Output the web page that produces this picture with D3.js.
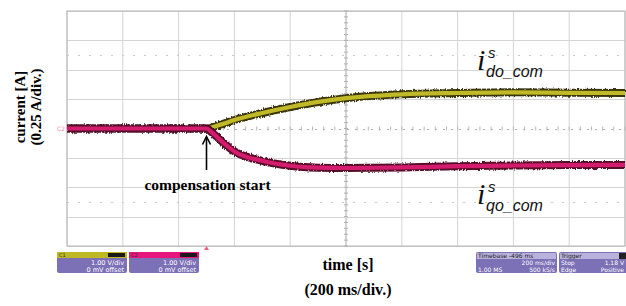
<!DOCTYPE html>
<html>
<head>
<meta charset="utf-8">
<script src="https://cdn.jsdelivr.net/npm/d3@7"></script>
<style>
  body { margin: 0; background: #fff; }
  svg { display: block; }
</style>
</head>
<body>
<div id="chart"></div>
<script>
// time in ms (200 ms/div), current in A (0.25 A/div)
var timeMs = [0, 500, 520, 560, 600, 700, 800, 900, 1000, 1100, 1200, 1400, 1600, 1800, 2000];
var idoCom = [0, 0, 0.01, 0.04, 0.072, 0.132, 0.183, 0.226, 0.258, 0.278, 0.291, 0.302, 0.308, 0.304, 0.302];
var iqoCom = [0, 0, -0.035, -0.12, -0.195, -0.275, -0.317, -0.333, -0.336, -0.334, -0.331, -0.321, -0.315, -0.311, -0.31];
var compStart = 500;

var channelNames = ["C1", "C2"];
var channelScale = ["1.00 V/div", "1.00 V/div"];
var channelOffset = ["0 mV offset", "0 mV offset"];
var timebaseLines = ["Timebase -496 ms", "200 ms/div", "1.00 MS", "500 kS/s"];
var triggerLines = ["Trigger", "Stop", "1.18 V", "Edge", "Positive"];

(function(){
	var width = 626, height = 306;
	var svg = d3.select("#chart").append("svg")
		.attr("width", width)
		.attr("height", height);

	// rough edges for the scope traces
	var defs = svg.append("defs");
	var filt = defs.append("filter").attr("id", "fuzz")
		.attr("x", "-5%").attr("y", "-50%").attr("width", "110%").attr("height", "200%");
	filt.append("feTurbulence").attr("type", "fractalNoise")
		.attr("baseFrequency", "0.9 0.25").attr("numOctaves", 2).attr("seed", 3).attr("result", "n");
	filt.append("feDisplacementMap").attr("in", "SourceGraphic").attr("in2", "n")
		.attr("scale", 3.5).attr("xChannelSelector", "R").attr("yChannelSelector", "G");

	var x = d3.scaleLinear().domain([0, 2000]).range([67, 625]);
	var y = d3.scaleLinear().domain([-1, 1]).range([246, 11]);

	var grid = svg.append("g");
	// vertical divisions
	grid.selectAll(".vl")
		.data(d3.range(0, 2001, 200))
		.enter().append("line")
		.attr("x1", function(d){ return x(d); })
		.attr("x2", function(d){ return x(d); })
		.attr("y1", y(1)).attr("y2", y(-1))
		.attr("stroke", function(d){ return d == 1000 ? "#a8a8a8" : "#d4d4d4"; })
		.attr("stroke-width", 1);
	// horizontal divisions (center one is dotted)
	grid.selectAll(".hl")
		.data(d3.range(-1, 1.001, 0.25))
		.enter().append("line")
		.attr("x1", x(0)).attr("x2", x(2000))
		.attr("y1", function(d){ return Math.round(y(d)) + 0.5; })
		.attr("y2", function(d){ return Math.round(y(d)) + 0.5; })
		.attr("stroke", function(d){ return Math.abs(d) < 1e-6 ? "#b0b0b0" : "#d4d4d4"; })
		.attr("stroke-dasharray", function(d){ return Math.abs(d) < 1e-6 ? "2,6" : null; });
	// extra dotted reference lines
	grid.selectAll(".dl")
		.data([0.625, -0.625])
		.enter().append("line")
		.attr("x1", x(0)).attr("x2", x(2000))
		.attr("y1", function(d){ return Math.round(y(d)) + 0.5; })
		.attr("y2", function(d){ return Math.round(y(d)) + 0.5; })
		.attr("stroke", "#c8c8c8")
		.attr("stroke-dasharray", "2,9");
	// minor ticks on center axes
	grid.selectAll(".tx")
		.data(d3.range(0, 2001, 40))
		.enter().append("line")
		.attr("x1", function(d){ return x(d); })
		.attr("x2", function(d){ return x(d); })
		.attr("y1", y(0) - 2).attr("y2", y(0) + 2)
		.attr("stroke", "#b8b8b8");
	grid.selectAll(".ty")
		.data(d3.range(-1, 1.001, 0.05))
		.enter().append("line")
		.attr("x1", x(1000) - 2).attr("x2", x(1000) + 2)
		.attr("y1", function(d){ return y(d); })
		.attr("y2", function(d){ return y(d); })
		.attr("stroke", "#b0b0b0");
	// frame
	grid.append("rect")
		.attr("x", x(0)).attr("y", y(1))
		.attr("width", x(2000) - x(0)).attr("height", y(-1) - y(1))
		.attr("fill", "none")
		.attr("stroke", "#b4b4b4");

	var line = d3.line()
		.x(function(d){ return x(d[0]); })
		.y(function(d){ return y(d[1]); })
		.curve(d3.curveMonotoneX);

	var traces = [
		{ values: idoCom, dark: "#3a3610", fill: "#c0ba28" },
		{ values: iqoCom, dark: "#560a28", fill: "#d41c6e" }
	];
	traces.forEach(function(t){
		var pts = timeMs.map(function(d, i){ return [d, t.values[i]]; });
		svg.append("path")
			.attr("d", line(pts))
			.attr("fill", "none")
			.attr("stroke", t.dark)
			.attr("stroke-width", 8)
			.attr("filter", "url(#fuzz)");
		svg.append("path")
			.attr("d", line(pts))
			.attr("fill", "none")
			.attr("stroke", t.fill)
			.attr("stroke-width", 4.2);
	});

	// channel marker
	svg.append("text")
		.attr("x", x(0) - 10).attr("y", y(0) + 2)
		.attr("font-family", "DejaVu Sans").attr("font-size", 6)
		.attr("fill", "#e888b0")
		.text("C2");

	// trigger position marker
	var tx = x(compStart);
	svg.append("path")
		.attr("d", "M" + (tx - 2.5) + "," + 250 + "L" + (tx + 2.5) + "," + 250 + "L" + tx + "," + 246 + "Z")
		.attr("fill", "#f06080");

	// arrow for compensation start
	svg.append("line")
		.attr("x1", tx).attr("x2", tx)
		.attr("y1", 170).attr("y2", y(0) + 9)
		.attr("stroke", "#000").attr("stroke-width", 1.6);
	svg.append("path")
		.attr("d", "M" + (tx - 4) + "," + (y(0) + 16) + "L" + tx + "," + (y(0) + 8) + "L" + (tx + 4) + "," + (y(0) + 16))
		.attr("fill", "none").attr("stroke", "#000").attr("stroke-width", 1.6);

	var serif = "'Liberation Serif', 'Times New Roman', serif";
	svg.append("text")
		.attr("x", tx + 1).attr("y", 190)
		.attr("text-anchor", "middle")
		.attr("font-family", serif).attr("font-weight", "bold").attr("font-size", 15.5)
		.text("compensation start");

	// axis titles
	svg.append("text")
		.attr("transform", "translate(25,107) rotate(-90)")
		.attr("text-anchor", "middle")
		.attr("font-family", serif).attr("font-weight", "bold").attr("font-size", 15)
		.text("current [A]");
	svg.append("text")
		.attr("transform", "translate(41,107) rotate(-90)")
		.attr("text-anchor", "middle")
		.attr("font-family", serif).attr("font-weight", "bold").attr("font-size", 15)
		.text("(0.25 A/div.)");
	svg.append("text")
		.attr("x", 348).attr("y", 270)
		.attr("text-anchor", "middle")
		.attr("font-family", serif).attr("font-weight", "bold").attr("font-size", 16)
		.text("time [s]");
	svg.append("text")
		.attr("x", 348).attr("y", 295)
		.attr("text-anchor", "middle")
		.attr("font-family", serif).attr("font-weight", "bold").attr("font-size", 16)
		.text("(200 ms/div.)");

	// trace labels
	function traceLabel(px, base, sub) {
		var g = svg.append("g").attr("font-family", "'Liberation Sans', sans-serif").attr("font-style", "italic").attr("fill", "#111");
		g.append("text").attr("x", px).attr("y", base).attr("font-family", "'Liberation Serif', serif").attr("font-size", 30).text("i");
		g.append("text").attr("x", px + 11).attr("y", base - 12).attr("font-size", 15).text("s");
		g.append("text").attr("x", px + 9).attr("y", base + 7).attr("font-size", 16).text(sub);
	}
	traceLabel(477, 70, "do_com");
	traceLabel(477, 204, "qo_com");

	// scope info boxes
	var boxFont = "'DejaVu Sans', sans-serif";
	var chColors = ["#bdb824", "#e8157c"];
	channelNames.forEach(function(name, i){
		var bx = 57 + i * 72, by = 252, bw = 70, bh = 21;
		var g = svg.append("g");
		g.append("rect").attr("x", bx).attr("y", by).attr("width", bw).attr("height", bh)
			.attr("rx", 2).attr("fill", "#7c70b6");
		g.append("rect").attr("x", bx).attr("y", by).attr("width", bw).attr("height", 6)
			.attr("fill", chColors[i]);
		g.append("rect").attr("x", bx + bw - 19).attr("y", by + 1).attr("width", 17).attr("height", 4)
			.attr("fill", "#1a1a1a");
		g.append("text").attr("x", bx + 2).attr("y", by + 5).attr("font-family", boxFont)
			.attr("font-size", 5).attr("fill", "#333").text(name);
		g.append("text").attr("x", bx + bw - 3).attr("y", by + 13).attr("text-anchor", "end")
			.attr("font-family", boxFont).attr("font-size", 6.5).attr("fill", "#fff").text(channelScale[i]);
		g.append("text").attr("x", bx + bw - 3).attr("y", by + 19.5).attr("text-anchor", "end")
			.attr("font-family", boxFont).attr("font-size", 6.5).attr("fill", "#fff").text(channelOffset[i]);
	});

	var tb = svg.append("g");
	tb.append("rect").attr("x", 476).attr("y", 252).attr("width", 81).attr("height", 21)
		.attr("rx", 2).attr("fill", "#7c70b6");
	tb.append("rect").attr("x", 477).attr("y", 253).attr("width", 79).attr("height", 6)
		.attr("fill", "#b9b2dc");
	tb.append("text").attr("x", 478).attr("y", 258).attr("font-family", boxFont)
		.attr("font-size", 6).attr("fill", "#222").text(timebaseLines[0]);
	tb.append("text").attr("x", 555).attr("y", 265).attr("text-anchor", "end").attr("font-family", boxFont)
		.attr("font-size", 6).attr("fill", "#fff").text(timebaseLines[1]);
	tb.append("text").attr("x", 478).attr("y", 271.5).attr("font-family", boxFont)
		.attr("font-size", 6).attr("fill", "#fff").text(timebaseLines[2]);
	tb.append("text").attr("x", 555).attr("y", 271.5).attr("text-anchor", "end").attr("font-family", boxFont)
		.attr("font-size", 6).attr("fill", "#fff").text(timebaseLines[3]);

	var tr = svg.append("g");
	tr.append("rect").attr("x", 559).attr("y", 252).attr("width", 70).attr("height", 21)
		.attr("rx", 2).attr("fill", "#7c70b6");
	tr.append("rect").attr("x", 560).attr("y", 253).attr("width", 68).attr("height", 6)
		.attr("fill", "#b9b2dc");
	tr.append("rect").attr("x", 619).attr("y", 253).attr("width", 7).attr("height", 6)
		.attr("fill", "#222");
	tr.append("text").attr("x", 561).attr("y", 258).attr("font-family", boxFont)
		.attr("font-size", 6).attr("fill", "#222").text(triggerLines[0]);
	tr.append("text").attr("x", 561).attr("y", 265).attr("font-family", boxFont)
		.attr("font-size", 6).attr("fill", "#fff").text(triggerLines[1]);
	tr.append("text").attr("x", 624).attr("y", 265).attr("text-anchor", "end").attr("font-family", boxFont)
		.attr("font-size", 6).attr("fill", "#fff").text(triggerLines[2]);
	tr.append("text").attr("x", 561).attr("y", 271.5).attr("font-family", boxFont)
		.attr("font-size", 6).attr("fill", "#fff").text(triggerLines[3]);
	tr.append("text").attr("x", 624).attr("y", 271.5).attr("text-anchor", "end").attr("font-family", boxFont)
		.attr("font-size", 6).attr("fill", "#fff").text(triggerLines[4]);
})();
</script>
</body>
</html>
